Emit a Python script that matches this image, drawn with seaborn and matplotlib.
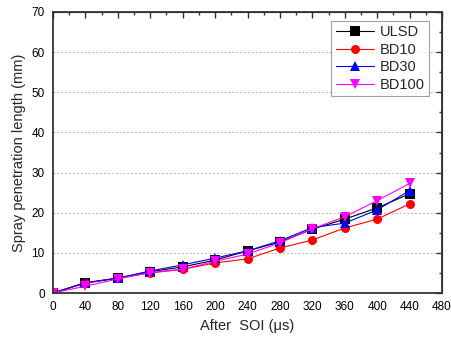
import matplotlib
matplotlib.use("Agg")
import matplotlib.pyplot as plt
import seaborn as sns
import pandas as pd

time_us = [0, 40, 80, 120, 160, 200, 240, 280, 320, 360, 400, 440]
ulsd = [0, 2.5, 3.7, 5.3, 6.5, 8.2, 10.5, 12.7, 15.9, 18.4, 21.2, 24.7]
bd10 = [0, 2.5, 3.7, 5.0, 5.9, 7.5, 8.5, 11.2, 13.2, 16.2, 18.4, 22.2]
bd30 = [0, 2.6, 3.7, 5.5, 7.0, 8.7, 10.5, 13.0, 16.3, 17.4, 20.7, 25.5]
bd100 = [0, 1.7, 3.5, 5.1, 5.9, 7.9, 9.7, 12.5, 16.0, 19.0, 23.0, 27.3]

series = {"ULSD": ulsd, "BD10": bd10, "BD30": bd30, "BD100": bd100}
rows = []
for name, vals in series.items():
    for t, v in zip(time_us, vals):
        rows.append({"t": t, "v": v, "fuel": name})
df = pd.DataFrame(rows)

sns.set_style("white")
plt.rcParams["font.family"] = ["Liberation Sans", "DejaVu Sans"]

fig = plt.figure(figsize=(4.51, 3.43), dpi=100)
ax = fig.add_axes([53/451, 50/343, 389/451, 281/343])

palette = {"ULSD": "black", "BD10": "red", "BD30": "blue", "BD100": "magenta"}
markers = {"ULSD": "s", "BD10": "o", "BD30": "^", "BD100": "v"}
sns.lineplot(data=df, x="t", y="v", hue="fuel", style="fuel", palette=palette,
             markers=markers, dashes=False, markersize=6.5, linewidth=0.8,
             markeredgewidth=0, ax=ax, legend=True)

ax.set_xlim(0, 480)
ax.set_ylim(0, 70)
ax.set_xticks(range(0, 481, 40))
ax.set_yticks(range(0, 71, 10))
ax.set_xticks(range(0, 481, 20), minor=True)
ax.set_yticks(range(0, 71, 5), minor=True)
ax.tick_params(axis="both", which="major", direction="out", length=4, width=1,
               labelsize=8.5, colors="#333333", labelcolor="black", pad=2)
ax.tick_params(axis="both", which="minor", direction="out", length=2, width=1, colors="#333333")
for s in ax.spines.values():
    s.set_linewidth(1.3)
    s.set_color("#333333")
for y in range(10, 70, 10):
    ax.axhline(y, color="#b5b5b5", linestyle=(0, (2, 2)), linewidth=0.7, zorder=0)

top = ax.secondary_xaxis("top")
top.set_xticks(range(0, 481, 40))
top.set_xticks(range(0, 481, 20), minor=True)
top.tick_params(which="major", direction="in", length=4, width=1, labeltop=False, colors="#333333")
top.tick_params(which="minor", direction="in", length=2, width=1, colors="#333333")
top.set_xticklabels([])
right = ax.secondary_yaxis("right")
right.set_yticks(range(0, 71, 10))
right.set_yticks(range(0, 71, 5), minor=True)
right.tick_params(which="major", direction="in", length=4, width=1, colors="#333333")
right.tick_params(which="minor", direction="in", length=2, width=1, colors="#333333")
right.set_yticklabels([])

ax.set_xlabel("After  SOI (\u03bcs)", fontsize=10.5, labelpad=4)
ax.set_ylabel("Spray penetration length (mm)", fontsize=10.5, labelpad=4)

leg = ax.legend(loc="upper right", bbox_to_anchor=(0.985, 0.995), fontsize=10.5,
                frameon=True, fancybox=False, edgecolor="#888888", handlelength=2.6,
                borderpad=0.3, labelspacing=0.25, handletextpad=0.4)
leg.get_frame().set_linewidth(0.8)

fig.savefig("out.png", dpi=100)
